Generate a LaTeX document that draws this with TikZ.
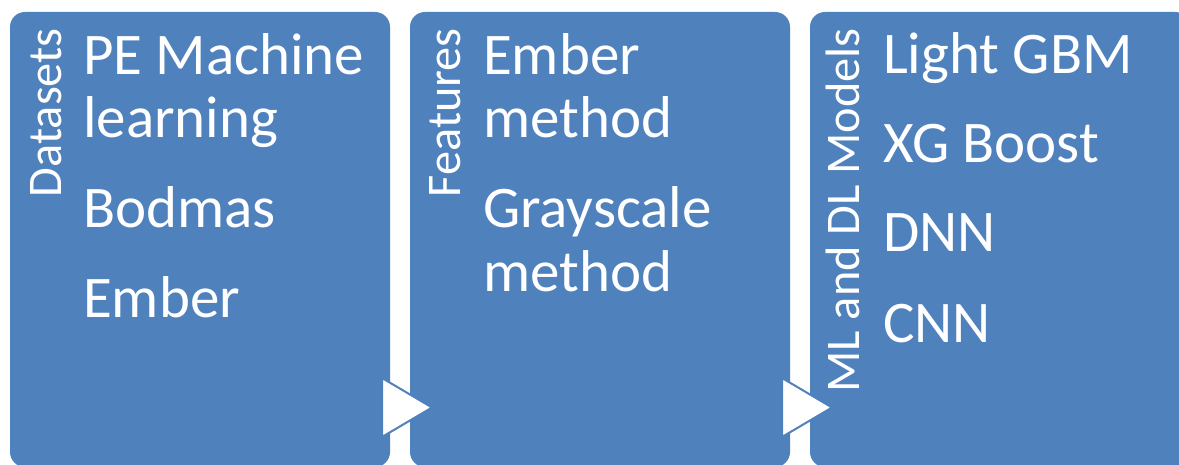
\documentclass[tikz,border=0pt]{standalone}
\usepackage{fontspec}
\setmainfont{Carlito}
\definecolor{boxblue}{HTML}{4F81BD}
\begin{document}
\begin{tikzpicture}[x=1pt,y=-1pt,
  stage/.style={fill=boxblue, rounded corners=15pt, minimum width=380pt,
    minimum height=455pt, inner sep=0pt, outer sep=0pt},
  item/.style={text=white, font=\fontsize{59}{65}\selectfont,
    anchor=base west, inner sep=0pt},
  heading/.style={text=white, font=\fontsize{48.3}{52}\selectfont,
    rotate=90, anchor=base east, inner sep=0pt},
  flow/.style={fill=white, draw=boxblue, line width=2pt, line join=miter}]
\useasboundingbox (0,0) rectangle (1179,465);
\clip (0,0) rectangle (1179,465);

% three process stages
\node[stage] (s1) at (200,239.5) {};
\node[stage] (s2) at (600,239.5) {};
\node[stage] (s3) at (1000,239.5) {};

% stage headings, set vertically
\node[heading] (h1) at (61,28) {Datasets};
\node[heading] (h2) at (460,28) {Features};
\node[heading] (h3) at (859,28) {ML and DL Models};

% datasets
\node[item] (d1) at (83,75)  {PE Machine};
\node[item] (d2) at (83,138) {learning};
\node[item] (d3) at (83,228) {Bodmas};
\node[item] (d4) at (83,318) {Ember};

% features
\node[item] (f1) at (483,75)  {Ember};
\node[item] (f2) at (483,138) {method};
\node[item] (f3) at (483,228) {Grayscale};
\node[item] (f4) at (483,292) {method};

% models
\node[item] (m1) at (883,74)  {Light GBM};
\node[item] (m2) at (883,163) {XG Boost};
\node[item] (m3) at (883,252) {DNN};
\node[item] (m4) at (883,342) {CNN};

% arrows between stages
\coordinate (a1) at (382,378);
\coordinate (a2) at (382,437);
\coordinate (a3) at (432,407.5);
\draw[flow] (a1) -- (a3) -- (a2) -- cycle;
\coordinate (b1) at (782,378);
\coordinate (b2) at (782,437);
\coordinate (b3) at (832,407.5);
\draw[flow] (b1) -- (b3) -- (b2) -- cycle;
\end{tikzpicture}
\end{document}
